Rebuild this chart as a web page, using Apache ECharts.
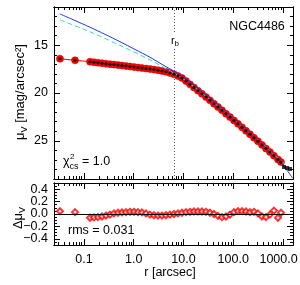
<!DOCTYPE html>
<html><head><meta charset="utf-8">
<script src="https://cdn.jsdelivr.net/npm/echarts@6/dist/echarts.min.js"></script>
<style>html,body{margin:0;padding:0;background:#fff}#c{width:300px;height:285px}</style>
</head><body><div id="c"></div>
<script>
// observed profile (arcsec, mag/arcsec^2) and residuals
const radius = [0.0331,0.0664,0.1327,0.1596,0.1920,0.2311,0.2781,0.3346,0.4025,0.4844,0.5827,0.7012,0.8435,1.015,1.221,1.469,1.768,2.127,2.559,3.079,3.705,4.457,5.362,6.452,7.762,9.339,11.24,13.52,16.26,19.57,23.54,28.32,34.08,41.02,49.34,59.36,71.42,85.94,103.4,124.4,149.7,180.1,216.7,260.7,313.7,377.4,454.0,546.3,657.3,790.7,908.4];
const muV = [16.41,16.58,16.72,16.78,16.83,16.88,16.93,16.98,17.03,17.08,17.13,17.18,17.23,17.29,17.34,17.39,17.44,17.49,17.55,17.61,17.69,17.78,17.90,18.04,18.22,18.43,18.75,19.09,19.42,19.76,20.09,20.43,20.77,21.12,21.46,21.81,22.17,22.52,22.87,23.23,23.59,23.96,24.32,24.69,25.05,25.43,25.81,26.18,26.56,26.95,27.23];
const residual = [0.045,0.03,-0.06,-0.055,-0.05,-0.04,-0.025,-0.01,0.01,0.02,0.025,0.03,0.035,0.035,0.03,0.025,0.01,-0.01,-0.02,-0.025,-0.025,-0.02,-0.01,0.0,0.01,0.02,0.03,0.035,0.04,0.04,0.04,0.035,0.02,0.0,-0.03,-0.05,-0.04,-0.01,0.03,0.045,0.045,0.04,0.03,0.035,0.01,-0.04,-0.05,-0.01,0.055,-0.06,0.02];
// excluded outer points
const outerR = [1043, 1200, 1377];
const outerMu = [27.74, 27.85, 27.95];
// Sersic component (blue)
const sersicR = [0.033,0.066,0.133,0.266,0.531,1.06,2.13,3.71,6.45,11.2,19.6,34.1,59.4,103,180,314,546,791,1144,1580];
const sersicMu = [11.73,12.41,13.12,13.86,14.63,15.44,16.26,17.01,17.72,18.53,19.53,20.58,21.62,22.72,23.82,24.97,26.17,27.01,27.95,28.95];
// alternative model (cyan dashed)
const altR = [0.0331,0.1327,0.5313,2.127,5.362,9.339,21.46,54.12,136.4,344.0,688.3,1144];
const altMu = [12.36,13.59,15.02,16.53,17.70,18.43,19.84,21.52,23.30,25.13,26.54,27.53];
const rBreak = 6.45;
// ticks
const xMajorTicks = [0.1, 1, 10, 100, 1000];
const xTickLabels = ['0.1', '1.0', '10.0', '100.0', '1000.0'];
const xMinorTicks = [0.03,0.04,0.05,0.06,0.07,0.08,0.09,0.2,0.3,0.4,0.5,0.6,0.7,0.8,0.9,2,3,4,5,6,7,8,9,20,30,40,50,60,70,80,90,200,300,400,500,600,700,800,900];
const muMajorTicks = [15, 20, 25];
const muMinorTicks = [11,12,13,14,16,17,18,19,21,22,23,24,26,27,28,29];
const dMajorTicks = [-0.4, -0.2, 0, 0.2, 0.4];
const dLabelsA = [-0.4, 0, 0.4];
const dTextsA = ['\u22120.4', '0.0', '0.4'];
const dLabelsB = [-0.2, 0.2];
const dTextsB = ['\u22120.2', '0.2'];
const dMinorTicks = [-0.45,-0.35,-0.3,-0.25,-0.15,-0.1,-0.05,0.05,0.1,0.15,0.25,0.3,0.35,0.45];

const X_MIN = 0.0251, X_MAX = 1585;
const FONT = '"Liberation Sans", Arial, sans-serif';
const FS = 12.5;

function xAx(grid, pos, ticks, len, withLabels) {
  return {
    type: 'log', logBase: 10, gridIndex: grid, position: pos, min: X_MIN, max: X_MAX,
    axisLine: {show: true, onZero: false, lineStyle: {color: '#000', width: 1}},
    axisTick: {show: true, inside: true, length: len, customValues: ticks, lineStyle: {color: '#000', width: 1}},
    axisLabel: withLabels ? {
      show: true, customValues: xMajorTicks, margin: 8, color: '#000', fontFamily: FONT, fontSize: FS,
      hideOverlap: false, showMinLabel: true, showMaxLabel: true,
      formatter: v => {
        const i = xMajorTicks.findIndex(t => Math.abs(Math.log10(t) - Math.log10(v)) < 1e-6);
        if (i < 0) return '';
        return i === xMajorTicks.length - 1 ? '{r|' + xTickLabels[i] + '}' : xTickLabels[i];
      },
      rich: {r: {fontFamily: FONT, fontSize: FS, color: '#000', padding: [0, 9, 0, 0]}}
    } : {show: false},
    splitLine: {show: false}, minorTick: {show: false}, minorSplitLine: {show: false}
  };
}
function yAx(grid, pos, min, max, inverse, ticks, len, labelTicks, labelTexts) {
  return {
    type: 'value', gridIndex: grid, position: pos, min: min, max: max, inverse: inverse,
    axisLine: {show: true, onZero: false, lineStyle: {color: '#000', width: 1}},
    axisTick: {show: true, inside: true, length: len, customValues: ticks, lineStyle: {color: '#000', width: 1}},
    axisLabel: labelTicks ? {
      show: true, customValues: labelTicks, margin: 6, color: '#000', fontFamily: FONT, fontSize: FS,
      hideOverlap: false, showMinLabel: true, showMaxLabel: true,
      formatter: v => { const i = labelTicks.findIndex(t => Math.abs(t - v) < 1e-6); return i >= 0 ? labelTexts[i] : ''; }
    } : {show: false},
    splitLine: {show: false}, minorTick: {show: false}
  };
}

const chart = echarts.init(document.getElementById('c'), null, {renderer: 'canvas'});
const zip = (a, b) => a.map((v, i) => [v, b[i]]);

chart.setOption({
  animation: false,
  backgroundColor: '#fff',
  grid: [
    {left: 54, top: 7, width: 239, height: 172, containLabel: false, outerBoundsMode: 'none'},
    {left: 54, top: 183, width: 239, height: 62, containLabel: false, outerBoundsMode: 'none'}
  ],
  xAxis: [
    xAx(0, 'bottom', xMajorTicks, 6, false),
    xAx(0, 'bottom', xMinorTicks, 3, false),
    xAx(0, 'top', xMajorTicks, 6, false),
    xAx(0, 'top', xMinorTicks, 3, false),
    xAx(1, 'bottom', xMajorTicks, 6, true),
    xAx(1, 'bottom', xMinorTicks, 3, false),
    xAx(1, 'top', xMajorTicks, 6, false),
    xAx(1, 'top', xMinorTicks, 3, false)
  ],
  yAxis: [
    yAx(0, 'left', 11, 29, true, muMajorTicks, 6, muMajorTicks, ['15', '20', '25']),
    yAx(0, 'left', 11, 29, true, muMinorTicks, 3, null),
    yAx(0, 'right', 11, 29, true, muMajorTicks, 6, null),
    yAx(0, 'right', 11, 29, true, muMinorTicks, 3, null),
    yAx(1, 'left', -0.5, 0.5, false, dMajorTicks, 6, dLabelsA, dTextsA),
    yAx(1, 'left', -0.5, 0.5, false, dMinorTicks, 3, dLabelsB, dTextsB),
    yAx(1, 'right', -0.5, 0.5, false, dMajorTicks, 6, null),
    yAx(1, 'right', -0.5, 0.5, false, dMinorTicks, 3, null)
  ],
  series: [
    {
      type: 'line', xAxisIndex: 0, yAxisIndex: 0, data: zip(radius, muV),
      symbol: 'circle', symbolSize: 7, showSymbol: true,
      itemStyle: {color: '#ff0000', borderColor: '#d40000', borderWidth: 0.6},
      lineStyle: {color: '#ff0000', width: 1}, z: 2,
      markLine: {
        silent: true, symbol: ['none', 'none'], label: {show: false},
        lineStyle: {color: '#555', type: [1, 2], width: 1},
        data: [{xAxis: rBreak}]
      }
    },
    {
      type: 'line', xAxisIndex: 0, yAxisIndex: 0, data: zip(altR, altMu), smooth: 0.3,
      showSymbol: false, lineStyle: {color: '#33e0b0', width: 1, type: [5, 3]}, z: 4
    },
    {
      type: 'line', xAxisIndex: 0, yAxisIndex: 0, data: zip(sersicR, sersicMu), smooth: 0.3,
      showSymbol: false, lineStyle: {color: '#2233ff', width: 1}, z: 5
    },
    {
      type: 'scatter', xAxisIndex: 0, yAxisIndex: 0, data: zip(radius, muV),
      symbol: 'circle', symbolSize: 3, itemStyle: {color: '#000', opacity: 1}, z: 6
    },
    {
      type: 'scatter', xAxisIndex: 0, yAxisIndex: 0, data: zip(outerR, outerMu),
      symbol: 'rect', symbolSize: 4, itemStyle: {color: '#000'}, z: 6
    },
    {
      type: 'scatter', xAxisIndex: 4, yAxisIndex: 4, data: zip(radius, residual),
      symbol: 'emptyDiamond', symbolSize: 6, itemStyle: {color: '#ff0000', borderWidth: 1}, z: 3,
      markLine: {
        silent: true, symbol: ['none', 'none'], label: {show: false},
        lineStyle: {color: '#000', type: 'solid', width: 1},
        data: [{yAxis: 0}]
      }
    }
  ],
  graphic: [
    {type: 'text', x: 257, y: 27, style: {text: 'NGC4486', font: FS + 'px ' + FONT, fill: '#000', align: 'center', verticalAlign: 'middle'}},
    {type: 'text', x: 175, y: 41, z: 10, style: {
      text: '{m|r}{s|b}', fill: '#000', align: 'center', verticalAlign: 'middle', backgroundColor: '#fff', padding: [1, 1],
      rich: {m: {fontSize: 11, fontFamily: FONT, lineHeight: 14, verticalAlign: 'middle'}, s: {fontSize: 8, fontFamily: FONT, lineHeight: 14, verticalAlign: 'bottom'}}
    }},
    {type: 'text', x: 63, y: 162, style: {
      text: '{m|\u03c7}{s|cs}{m| = 1.0}', fill: '#000', align: 'left', verticalAlign: 'middle',
      rich: {m: {fontSize: 12.5, fontFamily: FONT, lineHeight: 18, verticalAlign: 'middle'}, s: {fontSize: 9, fontFamily: FONT, lineHeight: 18, verticalAlign: 'bottom'}}
    }},
    {type: 'text', x: 70, y: 157, style: {text: '2', font: '8px ' + FONT, fill: '#000', align: 'left', verticalAlign: 'middle'}},
    {type: 'text', x: 68, y: 231, style: {text: 'rms = 0.031', font: FS + 'px ' + FONT, fill: '#000', align: 'left', verticalAlign: 'middle'}},
    {type: 'text', x: 170, y: 273, style: {text: 'r [arcsec]', font: FS + 'px ' + FONT, fill: '#000', align: 'center', verticalAlign: 'middle'}},
    {type: 'text', x: 20, y: 92, rotation: Math.PI / 2, style: {
      text: '{m|\u03bc}{s|V}{m| [mag/arcsec\u00b2]}', fill: '#000', align: 'center', verticalAlign: 'middle',
      rich: {m: {fontSize: 13, fontFamily: FONT, lineHeight: 18, verticalAlign: 'middle'}, s: {fontSize: 9, fontFamily: FONT, lineHeight: 18, verticalAlign: 'bottom'}}
    }},
    {type: 'text', x: 18, y: 218, rotation: Math.PI / 2, style: {
      text: '{m|\u0394\u03bc}{s|V}', fill: '#000', align: 'center', verticalAlign: 'middle',
      rich: {m: {fontSize: 13, fontFamily: FONT, lineHeight: 18, verticalAlign: 'middle'}, s: {fontSize: 9, fontFamily: FONT, lineHeight: 18, verticalAlign: 'bottom'}}
    }}
  ]
});
</script></body></html>
